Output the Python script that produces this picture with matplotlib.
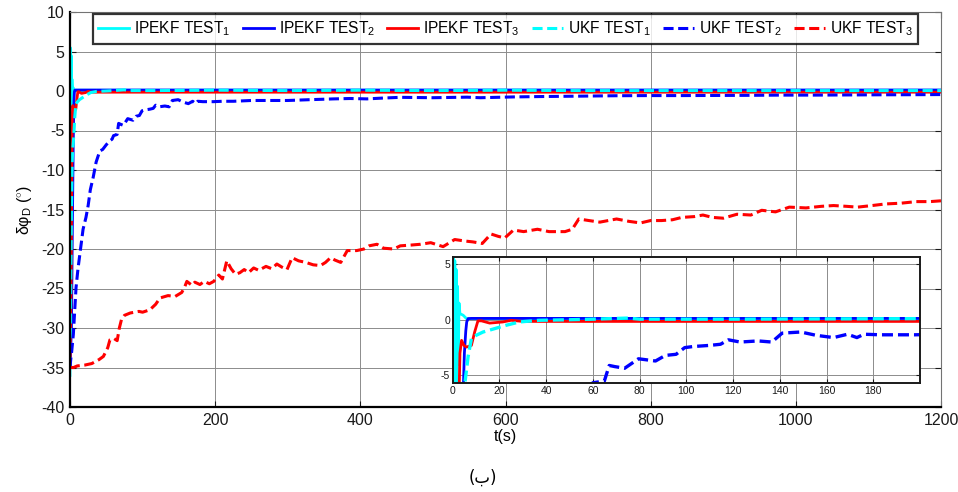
import matplotlib
matplotlib.use("Agg")
import matplotlib.pyplot as plt

plt.rcParams["font.family"] = ["Liberation Sans", "DejaVu Sans"]
plt.rcParams["mathtext.fontset"] = "custom"
plt.rcParams["mathtext.rm"] = "Liberation Sans"
plt.rcParams["mathtext.it"] = "Liberation Sans:italic"
plt.rcParams["axes.unicode_minus"] = False

# ---- data (time in s, error in degrees) ----
t_ipekf1 = [0, 0.3, 0.6, 0.9, 1.2, 1.5, 1.8, 2.1, 2.4, 2.7, 3.1, 4.5, 5.9, 8, 30, 200, 600, 1200]
v_ipekf1 = [-36, 5.5, -30, 5.3, -15, 4.5, -8, 3.0, -4, 1.5, 0.55, 0.4, 0.1, 0.1, 0.1, 0.1, 0.1, 0.1]

t_ipekf2 = [0, 2, 3.5, 4.5, 5.0, 5.6, 6.0, 6.6, 8, 200, 1200]
v_ipekf2 = [-35, -30, -15, -6.5, -3, -1, -0.2, 0.1, 0.12, 0.12, 0.12]

t_ipekf3 = [0, 1.5, 2.6, 3.1, 3.8, 4.8, 5.9, 8, 9.4, 10.8, 12.3, 15.8, 21.4, 25, 30, 1200]
v_ipekf3 = [-35, -25, -8, -3, -1.85, -2.3, -2.45, -2.3, -1.1, -0.1, -0.1, -0.3, -0.2, -0.05, -0.15, -0.15]

t_ukf1 = [0, 1, 2, 3, 4, 5.2, 6.6, 8, 10, 13, 17.9, 22.8, 28.5, 36.9, 50, 60, 75, 80,
          120, 200, 300, 400, 500, 600, 700, 1200]
v_ukf1 = [-35, -25, -15, -9, -7, -5.7, -3.3, -1.7, -1.4, -1.1, -0.8, -0.5, -0.2, -0.05,
          0.0, 0.05, 0.15, 0.05, 0.05, 0.1, 0.05, 0.1, 0.05, 0.1, 0.05, 0.05]

t_ukf2 = [0, 1, 2.3, 4.6, 8.3, 11, 13.8, 18, 22, 25, 28, 32, 36, 41, 45, 50, 55, 58,
          60, 64.9, 67, 69.3, 73.6, 79.5, 86.8, 91, 95.6, 99.3, 103, 110, 114.6, 118,
          123, 130.7, 136.6, 138.8, 141, 149, 155.6, 163, 169, 173, 176, 183, 198,
          210, 225, 250, 271, 300, 330, 363, 386, 409, 430, 455, 500, 547, 565, 611,
          650, 703, 750, 796, 842, 900, 933, 980, 1025, 1070, 1117, 1160, 1200]
v_ukf2 = [-35, -34, -33, -30.8, -24.9, -22.5, -20.5, -17.5, -16, -14.5, -12.5, -10.9,
          -9, -7.6, -7.4, -6.8, -6.3, -6.1, -5.65, -5.5, -4.1, -4.2, -4.35, -3.5, -3.7,
          -3.2, -3.1, -2.5, -2.4, -2.3, -2.2, -1.8, -2.0, -1.9, -2.0, -1.6, -1.2, -1.1,
          -1.4, -1.6, -1.3, -1.6, -1.3, -1.35, -1.35, -1.3, -1.3, -1.2, -1.2, -1.2,
          -1.1, -1.0, -0.95, -1.0, -0.9, -0.8, -0.85, -0.78, -0.85, -0.75, -0.7, -0.65,
          -0.6, -0.58, -0.58, -0.56, -0.55, -0.52, -0.52, -0.5, -0.48, -0.47, -0.45]

t_ukf3 = [0, 5, 10, 20, 30, 40, 46, 52, 55, 60, 65, 68, 71, 75, 83, 95, 100, 110, 118,
          124, 135, 145, 154, 158, 161, 168, 172, 179, 185, 192, 198, 205, 210, 216,
          222, 228, 234, 240, 246, 253, 260, 270, 278, 285, 292, 299, 306, 315, 325,
          335, 345, 352, 359, 365, 373, 382, 395, 405, 412, 423, 432, 446, 455, 470,
          483, 497, 514, 530, 545, 555, 568, 580, 590, 599, 611, 625, 644, 660, 682,
          692, 701, 715, 730, 753, 770, 786, 800, 815, 830, 843, 860, 872, 885, 900,
          919, 938, 953, 972, 991, 1014, 1035, 1052, 1070, 1085, 1105, 1123, 1145,
          1166, 1185, 1200]
v_ukf3 = [-35, -35, -34.8, -34.7, -34.5, -34, -33.6, -32.5, -31.5, -31.3, -31.6, -30,
          -28.9, -28.4, -28.1, -27.9, -28, -27.7, -27, -26.2, -25.9, -26, -25.5, -24.8,
          -24.1, -24.6, -24.2, -24.5, -24.1, -24.4, -24.1, -23.3, -23.8, -21.5, -22.5,
          -23.2, -23.0, -22.6, -23, -22.4, -22.7, -22.2, -22.5, -21.9, -22.3, -22.6,
          -21.1, -21.5, -21.7, -22, -22.1, -21.7, -21.1, -21.4, -21.7, -20.2, -20.2,
          -20, -19.6, -19.4, -19.9, -20.0, -19.6, -19.5, -19.4, -19.2, -19.7, -18.8,
          -19.0, -19.1, -19.3, -18.1, -18.4, -18.6, -17.6, -17.8, -17.5, -17.8, -17.8,
          -17.5, -16.2, -16.4, -16.6, -16.2, -16.5, -16.7, -16.4, -16.4, -16.3, -16.0,
          -15.9, -15.7, -16, -16.1, -15.6, -15.7, -15.1, -15.3, -14.7, -14.8, -14.6,
          -14.5, -14.6, -14.7, -14.5, -14.3, -14.2, -14.0, -14.0, -13.9]

labels = ["IPEKF TEST$_1$", "IPEKF TEST$_2$", "IPEKF TEST$_3$",
          "UKF TEST$_1$", "UKF TEST$_2$", "UKF TEST$_3$"]

series = [
    (t_ipekf1, v_ipekf1, "#00FFFF", "-"),
    (t_ipekf2, v_ipekf2, "#0000FF", "-"),
    (t_ipekf3, v_ipekf3, "#FF0000", "-"),
    (t_ukf1, v_ukf1, "#00FFFF", "--"),
    (t_ukf2, v_ukf2, "#0000FF", "--"),
    (t_ukf3, v_ukf3, "#FF0000", "--"),
]


def draw(ax, lw_solid, lw_dash):
    lines = []
    for (t, v, c, ls), lab in zip(series, labels):
        if ls == "-":
            ln, = ax.plot(t, v, color=c, lw=lw_solid, label=lab)
        else:
            ln, = ax.plot(t, v, color=c, lw=lw_dash, label=lab, dashes=(3.3, 1.5))
        lines.append(ln)
    return lines


def style(ax, fs, pad):
    ax.grid(True, color="0.55", lw=0.7)
    ax.set_axisbelow(True)
    ax.tick_params(direction="in", top=True, right=True, length=4, labelsize=fs,
                   pad=pad, colors="0.1", width=0.8)


fig = plt.figure(figsize=(9.58, 4.92), dpi=100)
ax = fig.add_axes([70 / 958, 1 - 407 / 492, 871 / 958, 395 / 492])
lines = draw(ax, 2.0, 2.2)
ax.set_xlim(0, 1200)
ax.set_ylim(-40, 10)
ax.set_xticks(range(0, 1201, 200))
ax.set_yticks(range(-40, 11, 5))
style(ax, 11.5, 4)
for s in ("left", "bottom"):
    ax.spines[s].set_linewidth(1.6)
    ax.spines[s].set_color("black")
for s in ("top", "right"):
    ax.spines[s].set_linewidth(0.8)
    ax.spines[s].set_color("0.45")
ax.set_xlabel("t(s)", fontsize=11.5, labelpad=1)
ax.set_ylabel(r"δφ$_\mathrm{D}$ ($^{\circ}$)", fontsize=11.5, labelpad=5)

leg = ax.legend(handles=lines, ncol=6, loc="upper left",
                bbox_to_anchor=(0.026, 0.995), fontsize=11.2, frameon=True,
                fancybox=False, handlelength=2.0, handletextpad=0.3,
                columnspacing=0.8, borderpad=0.35, borderaxespad=0)
leg.get_frame().set_edgecolor("black")
leg.get_frame().set_linewidth(1.6)

# zoomed inset
ins = fig.add_axes([452.7 / 958, 1 - 383.3 / 492, 467.3 / 958, 126 / 492])
draw(ins, 2.0, 2.4)
ins.set_xlim(0, 200)
ins.set_ylim(-5.7, 5.6)
ins.set_xticks(range(0, 181, 20))
ins.set_yticks([-5, 0, 5])
style(ins, 7.5, 2)
ins.tick_params(length=3)
for s in ins.spines.values():
    s.set_linewidth(1.4)
    s.set_color("0.1")

fig.text(483 / 958, 1 - 478 / 492, "(ب)", ha="center", va="center", fontsize=12,
         family=["DejaVu Sans"])

fig.savefig("out.png", dpi=100)
